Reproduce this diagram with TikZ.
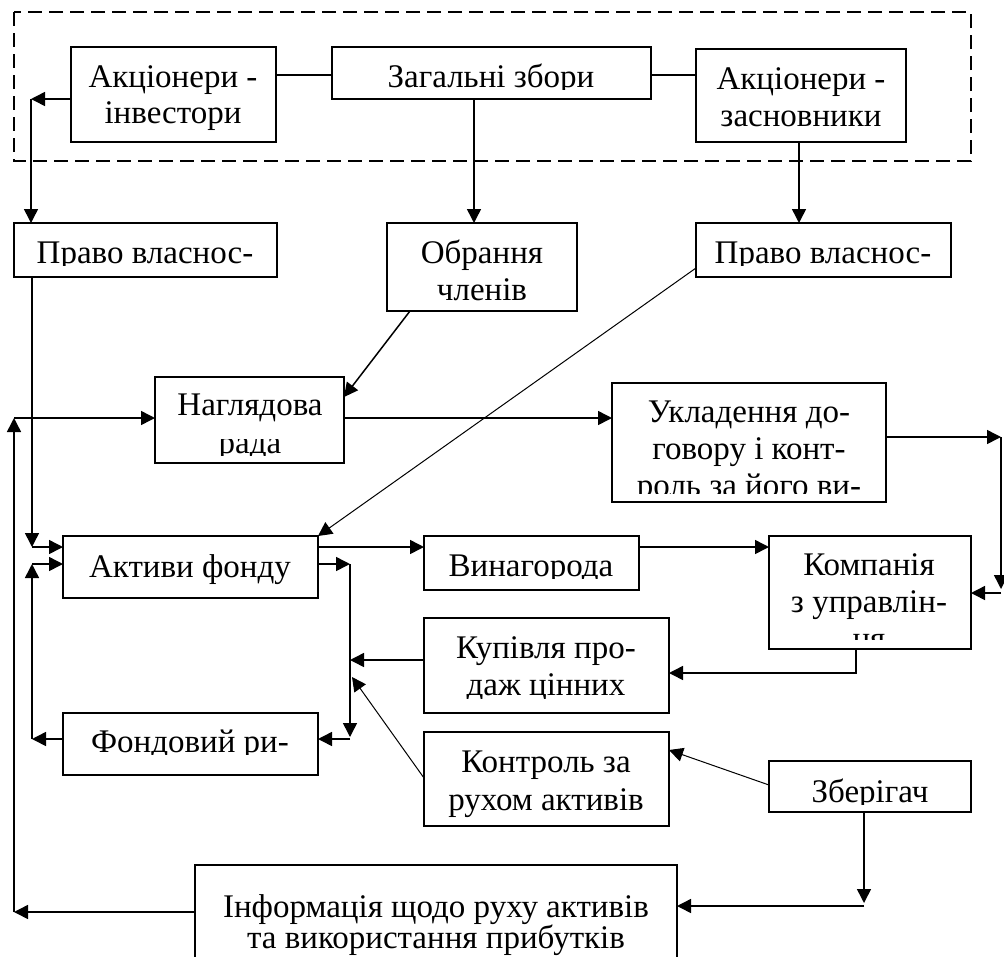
\documentclass[tikz,border=0pt]{standalone}
\usepackage{fontspec}
\setmainfont{Liberation Serif}
\usetikzlibrary{arrows.meta,calc}
\tikzset{
 box/.style={draw,line width=1.5pt,inner sep=0pt,outer sep=0pt,rectangle},
 txt/.style={inner sep=0pt,outer sep=0pt,font=\fontsize{33}{36}\selectfont},
 arr/.style={line width=1.5pt,-{Triangle[length=14pt,width=14pt]}},
 ln/.style={line width=1.5pt},
 thinarr/.style={line width=1pt,-{Triangle[length=14pt,width=14pt]}},
 dashbox/.style={line width=1.5pt,dash pattern=on 14pt off 7pt},
}
\newcommand\mybox[5]{\node[box,minimum width={(#4-#2)*1pt},minimum height={(#5-#3)*1pt}] (#1) at ({(#2+#4)/2},{(#3+#5)/2}) {};}
\newcommand\tline[4]{\node[txt,anchor=base] (#1) at (#2,#3) {#4};}
\begin{document}
\begin{tikzpicture}[x=1pt,y=-1pt]
\useasboundingbox (0,0) rectangle (1004,956);
% dashed frame
\draw[dashbox] (14,12) rectangle (971,161);
% boxes
\mybox{inv}{71}{47}{276}{142}
\mybox{zag}{332}{47}{651}{99}
\mybox{zas}{696}{49}{906}{142}
\mybox{pvl}{14}{223}{277}{277}
\mybox{obr}{387}{223}{577}{311}
\mybox{pvr}{696}{223}{951}{277}
\mybox{nag}{155}{377}{344}{463}
\mybox{ukl}{612}{383}{886}{502}
\mybox{akt}{63}{536}{318}{598}
\mybox{vyn}{424}{536}{639}{590}
\mybox{kom}{769}{536}{971}{649}
\mybox{kup}{424}{618}{669}{713}
\mybox{fon}{63}{713}{318}{775}
\mybox{kon}{424}{732}{669}{826}
\mybox{zb}{769}{761}{971}{812}
\mybox{inf}{195}{865}{677}{990}
% texts
\tline{inva}{173}{87}{Акціонери -}
\tline{invb}{173}{123}{інвестори}
\begin{scope}\clip (332,47) rectangle (651,89);
\tline{zaga}{491}{87}{Загальні збори}
\end{scope}
\tline{zasa}{801}{89}{Акціонери -}
\tline{zasb}{801}{126}{засновники}
\begin{scope}\clip (14,223) rectangle (277,265);
\tline{pvlt}{145}{263}{Право власнос-}
\end{scope}
\tline{obra}{482}{263}{Обрання}
\tline{obrb}{482}{300}{членів}
\begin{scope}\clip (696,223) rectangle (951,265);
\tline{pvrt}{823}{263}{Право власнос-}
\end{scope}
\tline{naga}{250}{415}{Наглядова}
\begin{scope}\clip (155,439) rectangle (344,455);
\tline{nagb}{250}{453}{рада}
\end{scope}
\begin{scope}\clip (612,383) rectangle (886,493);
\tline{ukla}{749}{422}{Укладення до-}
\tline{uklb}{749}{459}{говору і конт-}
\tline{uklc}{749}{496}{роль за його ви-}
\end{scope}
\tline{aktt}{190}{577}{Активи фонду}
\begin{scope}\clip (424,536) rectangle (639,578);
\tline{vynt}{531}{576}{Винагорода}
\end{scope}
\begin{scope}\clip (769,536) rectangle (971,639);
\tline{koma}{869}{575}{Компанія}
\tline{komb}{869}{612}{з управлін-}
\tline{komc}{869}{649}{ня}
\end{scope}
\begin{scope}\clip (424,618) rectangle (669,698);
\tline{kupa}{546}{658}{Купівля про-}
\tline{kupb}{546}{695}{даж цінних}
\end{scope}
\begin{scope}\clip (63,713) rectangle (318,754);
\tline{font}{190}{752}{Фондовий ри-}
\end{scope}
\tline{kona}{546}{772}{Контроль за}
\tline{konb}{546}{810}{рухом активів}
\begin{scope}\clip (769,761) rectangle (971,804);
\tline{zbt}{870}{802}{Зберігач}
\end{scope}
\tline{infa}{436}{917}{Інформація щодо руху активів}
\tline{infb}{436}{948}{та використання прибутків}
% bend coordinates
\coordinate (c1) at (31,99);
\coordinate (c2) at (32,547);
\coordinate (c3) at (32,739);
\coordinate (c4) at (32,564);
\coordinate (c5) at (350,564);
\coordinate (c6) at (350,739);
\coordinate (c7) at (14,912);
\coordinate (c8) at (14,418);
\coordinate (c9) at (1001,437);
\coordinate (c10) at (1001,593);
\coordinate (c11) at (856,673);
\coordinate (c12) at (864,906);
% connectors
\draw[ln] (inv.east |- 0,75) -- (zag.west |- 0,75);
\draw[ln] (zag.east |- 0,75) -- (zas.west |- 0,75);
\draw[arr] (inv.west |- c1) -- (c1);
\draw[arr] (c1) -- (pvl.north -| c1);
\draw[arr] (zag.south -| 474,0) -- (obr.north -| 474,0);
\draw[arr] (zas.south -| 799,0) -- (pvr.north -| 799,0);
\draw[arr] (obr.south -| 410,0) -- (nag.east |- 0,397);
\draw[thinarr] (pvr.west |- 0,268) -- (akt.north east);
\draw[arr] (pvl.south -| c2) -- (c2);
\draw[arr] (c2) -- (akt.west |- c2);
\draw[arr] (fon.west |- c3) -- (c3);
\draw[arr] (c3) -- (c4);
\draw[arr] (c4) -- (akt.west |- c4);
\draw[arr] (akt.east |- c5) -- (c5);
\draw[arr] (c5) -- ($(c6)+(0,-2)$);
\draw[arr] (c6) -- (fon.east |- c6);
\draw[arr] (akt.east |- 0,547) -- (vyn.west |- 0,547);
\draw[arr] (vyn.east |- 0,547) -- (kom.west |- 0,547);
\draw[arr] (nag.east |- c8) -- (ukl.west |- c8);
\draw[arr] (inf.west |- c7) -- (c7);
\draw[arr] (c7) -- (c8);
\draw[arr] (c8) -- (nag.west |- c8);
\draw[arr] (ukl.east |- c9) -- (c9);
\draw[arr] (c9) -- ($(c10)+(0,-4)$);
\draw[arr] (c10) -- (kom.east |- c10);
\draw[arr] (kom.south -| c11) -- (c11) -- (kup.east |- c11);
\draw[arr] (kup.west |- 0,660) -- (c5 |- 0,660);
\draw[thinarr] (kon.west |- 0,778) -- (352,677);
\draw[thinarr] (zb.west |- 0,785) -- (kon.east |- 0,750);
\draw[arr] (zb.south -| c12) -- ($(c12)+(0,-3)$);
\draw[arr] (c12) -- (inf.east |- c12);
\end{tikzpicture}
\end{document}
